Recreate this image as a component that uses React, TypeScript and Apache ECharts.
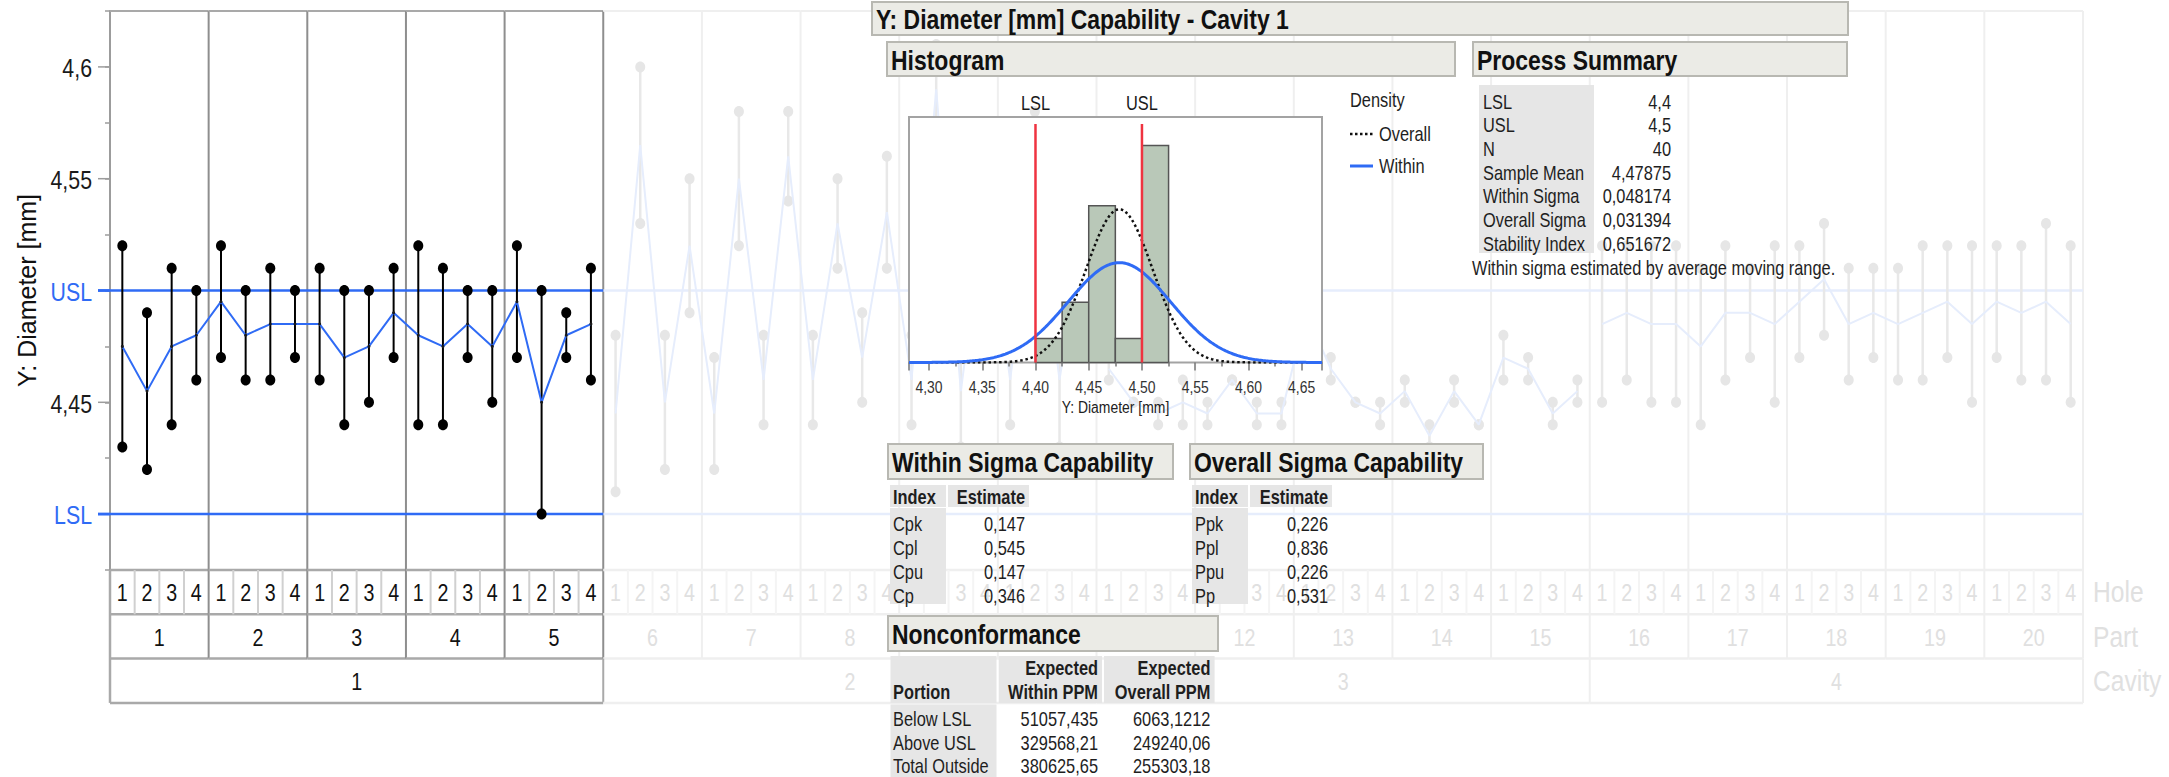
import React, { useEffect, useRef } from 'react';
import * as echarts from 'echarts';

const FONT = "'Liberation Sans', Arial, Helvetica, sans-serif";
const SX = 0.82; // horizontal squeeze of the reference's lettering

// ---------- Variability chart data ----------
const HOLES = ['1', '2', '3', '4'];
const PARTS = ['1', '2', '3', '4', '5', '6', '7', '8', '9', '10', '11', '12', '13', '14', '15', '16', '17', '18', '19', '20'];
const CAVITIES = ['1', '2', '3', '4'];
const ROW_NAMES = ['Hole', 'Part', 'Cavity'];

// per hole (parts x 4 holes), the two measurements: high and low
const CAVITY1_HIGH = [4.52, 4.49, 4.51, 4.50, 4.52, 4.50, 4.51, 4.50, 4.51, 4.50, 4.50, 4.51, 4.52, 4.51, 4.50, 4.50, 4.52, 4.50, 4.49, 4.51];
const CAVITY1_LOW = [4.43, 4.42, 4.44, 4.46, 4.47, 4.46, 4.46, 4.47, 4.46, 4.44, 4.45, 4.47, 4.44, 4.44, 4.47, 4.45, 4.47, 4.40, 4.47, 4.46];
const CAVITY2_HIGH = [4.48, 4.60, 4.48, 4.55, 4.47, 4.58, 4.48, 4.58, 4.48, 4.55, 4.49, 4.56, 4.48, 4.61, 4.48, 4.57, 4.48, 4.58, 4.49, 4.56];
const CAVITY2_LOW = [4.41, 4.53, 4.42, 4.49, 4.42, 4.52, 4.44, 4.54, 4.44, 4.51, 4.45, 4.51, 4.44, 4.57, 4.43, 4.51, 4.44, 4.52, 4.43, 4.50];
const CAVITY3_HIGH = [4.47, 4.45, 4.45, 4.46, 4.45, 4.46, 4.45, 4.45, 4.50, 4.47, 4.45, 4.45, 4.46, 4.44, 4.46, 4.44, 4.48, 4.47, 4.45, 4.46];
const CAVITY3_LOW = [4.46, 4.45, 4.44, 4.44, 4.44, 4.46, 4.44, 4.44, 4.48, 4.46, 4.45, 4.44, 4.45, 4.43, 4.45, 4.44, 4.46, 4.46, 4.44, 4.45];
const CAVITY4_HIGH = [4.52, 4.52, 4.52, 4.52, 4.51, 4.52, 4.51, 4.52, 4.52, 4.53, 4.51, 4.51, 4.51, 4.52, 4.52, 4.52, 4.52, 4.52, 4.53, 4.52];
const CAVITY4_LOW = [4.45, 4.46, 4.45, 4.45, 4.44, 4.46, 4.47, 4.45, 4.47, 4.48, 4.46, 4.47, 4.46, 4.46, 4.47, 4.45, 4.47, 4.46, 4.46, 4.45];

const Y_MIN = 4.375;
const Y_MAX = 4.625;
const Y_STEP = 0.025;
const Y_TICK_VALUES = [4.4, 4.45, 4.5, 4.55, 4.6];
const Y_TICK_LABELS = ['LSL', '4,45', 'USL', '4,55', '4,6'];
const Y_TITLE = 'Y: Diameter [mm]';
const LSL = 4.4;
const USL = 4.5;
const SPEC_VALUES = [LSL, USL];
const SPEC_LABELS = ['LSL', 'USL'];

// ---------- Histogram data ----------
const HIST_BIN_START = [4.4, 4.425, 4.45, 4.475, 4.5];
const HIST_COUNTS = [2, 5, 13, 2, 18];
const HIST_BIN_WIDTH = 0.025;
const HIST_X_MIN = 4.2812;
const HIST_X_MAX = 4.6691;
const HIST_Y_MAX = 20.36;
const HIST_TICKS = [4.3, 4.35, 4.4, 4.45, 4.5, 4.55, 4.6, 4.65];
const HIST_TICK_LABELS = ['4,30', '4,35', '4,40', '4,45', '4,50', '4,55', '4,60', '4,65'];
const SAMPLE_N = 40;
const SAMPLE_MEAN = 4.47875;
const WITHIN_SIGMA = 0.048174;
const OVERALL_SIGMA = 0.031394;

// ---------- Tables ----------
const SUMMARY_LABELS = ['LSL', 'USL', 'N', 'Sample Mean', 'Within Sigma', 'Overall Sigma', 'Stability Index'];
const SUMMARY_VALUES = ['4,4', '4,5', '40', '4,47875', '0,048174', '0,031394', '0,651672'];
const WITHIN_INDEX = ['Cpk', 'Cpl', 'Cpu', 'Cp'];
const WITHIN_EST = ['0,147', '0,545', '0,147', '0,346'];
const OVERALL_INDEX = ['Ppk', 'Ppl', 'Ppu', 'Pp'];
const OVERALL_EST = ['0,226', '0,836', '0,226', '0,531'];
const NONCONF_PORTION = ['Below LSL', 'Above USL', 'Total Outside'];
const NONCONF_WITHIN = ['51057,435', '329568,21', '380625,65'];
const NONCONF_OVERALL = ['6063,1212', '249240,06', '255303,18'];

const ROW_H = 44.3;
const BLUE = '#2f6bf5';
const FADED_BLUE = '#e6edfc';

function ln(x1: number, y1: number, x2: number, y2: number, stroke: string, lineWidth: number, extra: any = {}) {
  return { type: 'line', shape: { x1, y1, x2, y2 }, style: { stroke, lineWidth, ...extra } };
}
function label(x: number, y: number, text: string, o: any = {}) {
  return {
    type: 'text', x, y, scaleX: SX, z: o.z, silent: true,
    style: {
      text, fill: o.fill ?? '#1e1e1e', fontSize: o.size ?? 20, fontFamily: FONT,
      fontWeight: o.bold ? 'bold' : 'normal', align: o.align ?? 'left', verticalAlign: 'middle',
    },
  };
}
function tx(x: number, y: number, text: string, o: any = {}) {
  return label(x, y, text, { z: 30, ...o });
}
function rc(x: number, y: number, w: number, h: number, fill: string, stroke?: string, z = 20) {
  return { type: 'rect', z, silent: true, shape: { x, y, width: w, height: h }, style: { fill, stroke: stroke ?? 'none', lineWidth: stroke ? 2 : 0 } };
}
function header(x: number, y: number, w: number, h: number, text: string) {
  return [rc(x, y, w, h, '#ebebe6', '#b8b8b2'), tx(x + 4, y + h / 2 + 1, text, { bold: true, size: 28, fill: '#111' })];
}

function normalCurve(sigma: number) {
  const pts: number[][] = [];
  const n = 300;
  for (let i = 0; i <= n; i++) {
    const x = HIST_X_MIN + ((HIST_X_MAX - HIST_X_MIN) * i) / n;
    const z = (x - SAMPLE_MEAN) / sigma;
    pts.push([x, (SAMPLE_N * HIST_BIN_WIDTH * Math.exp(-0.5 * z * z)) / (sigma * Math.sqrt(2 * Math.PI))]);
  }
  return pts;
}

function buildOption() {
  const highs = [CAVITY1_HIGH, CAVITY2_HIGH, CAVITY3_HIGH, CAVITY4_HIGH];
  const lows = [CAVITY1_LOW, CAVITY2_LOW, CAVITY3_LOW, CAVITY4_LOW];
  const rangeData: number[][] = [];
  highs.forEach((arr, c) => arr.forEach((hi, i) => rangeData.push([c * 20 + i + 0.5, hi, lows[c][i], c])));
  const meanSeries = highs.map((arr, c) => ({
    type: 'line', xAxisIndex: 0, yAxisIndex: 0, z: 5, silent: true,
    data: arr.map((hi, i) => [c * 20 + i + 0.5, (hi + lows[c][i]) / 2]),
    symbol: c === 0 ? 'circle' : 'none', symbolSize: 3, showSymbol: c === 0,
    itemStyle: { color: '#1a1a1a' },
    lineStyle: { color: c === 0 ? BLUE : FADED_BLUE, width: 2 },
  }));

  const partData = PARTS.map((_, p) => [p * 4 + 2, Y_MIN, p, Math.floor(p / 5)]);
  const cavData = CAVITIES.map((_, c) => [c * 20 + 10, Y_MIN, c]);

  const graphic: any[] = [
    {
      type: 'text', x: 27, y: 290.5, rotation: Math.PI / 2, z: 30, silent: true,
      style: { text: Y_TITLE, fill: '#111', fontSize: 25, fontFamily: FONT, align: 'center', verticalAlign: 'middle' },
    },
    rc(909, 117, 413, 245.5, '#ffffff', '#a3a3a3', 10),
    tx(1115.5, 406.5, Y_TITLE, { size: 17, align: 'center', fill: '#222', z: 16 }),
    ...header(872, 2, 976, 33, 'Y: Diameter [mm] Capability - Cavity 1'),
    ...header(887, 42, 568, 34, 'Histogram'),
    ...header(1473, 42, 374, 34, 'Process Summary'),
    ...header(888, 444, 285, 35, 'Within Sigma Capability'),
    ...header(1190, 444, 293, 35, 'Overall Sigma Capability'),
    ...header(888, 616, 330, 35, 'Nonconformance'),
    // density legend
    tx(1350, 100, 'Density'),
    { type: 'line', z: 30, silent: true, shape: { x1: 1350, y1: 134, x2: 1373, y2: 134 }, style: { stroke: '#111', lineWidth: 2.5, lineDash: [2.5, 2.5] } },
    tx(1379, 134, 'Overall'),
    { type: 'line', z: 30, silent: true, shape: { x1: 1350, y1: 166, x2: 1373, y2: 166 }, style: { stroke: BLUE, lineWidth: 3 } },
    tx(1379, 166, 'Within'),
    // process summary
    rc(1479, 85, 115, 168, '#e6e6e6'),
    ...SUMMARY_LABELS.map((l, i) => tx(1483, 101.5 + i * 23.65, l)),
    ...SUMMARY_VALUES.map((v, i) => tx(1671, 101.5 + i * 23.65, v, { align: 'right' })),
    tx(1472, 267.5, 'Within sigma estimated by average moving range.'),
    // within sigma table
    rc(890, 485, 56, 22, '#e6e6e6'), rc(948, 485, 81, 22, '#e6e6e6'), rc(890, 508, 56, 96, '#e6e6e6'),
    tx(893, 496.5, 'Index', { bold: true }), tx(1025, 496.5, 'Estimate', { bold: true, align: 'right' }),
    ...WITHIN_INDEX.map((l, i) => tx(893, 523.5 + i * 24.05, l)),
    ...WITHIN_EST.map((v, i) => tx(1025, 523.5 + i * 24.05, v, { align: 'right' })),
    // overall sigma table
    rc(1192, 485, 56, 22, '#e6e6e6'), rc(1250, 485, 82, 22, '#e6e6e6'), rc(1192, 508, 56, 96, '#e6e6e6'),
    tx(1195, 496.5, 'Index', { bold: true }), tx(1328, 496.5, 'Estimate', { bold: true, align: 'right' }),
    ...OVERALL_INDEX.map((l, i) => tx(1195, 523.5 + i * 24.05, l)),
    ...OVERALL_EST.map((v, i) => tx(1328, 523.5 + i * 24.05, v, { align: 'right' })),
    // nonconformance table
    rc(890.5, 656, 106, 47, '#e6e6e6'), rc(998.7, 656, 103.3, 47, '#e6e6e6'), rc(1104, 656, 110.6, 47, '#e6e6e6'),
    rc(890.5, 704.5, 106, 73, '#e6e6e6'),
    tx(893, 691.7, 'Portion', { bold: true }),
    tx(1098, 668.3, 'Expected', { bold: true, align: 'right' }), tx(1098, 691.7, 'Within PPM', { bold: true, align: 'right' }),
    tx(1210.4, 668.3, 'Expected', { bold: true, align: 'right' }), tx(1210.4, 691.7, 'Overall PPM', { bold: true, align: 'right' }),
    ...NONCONF_PORTION.map((l, i) => tx(893, 719.3 + i * 23.35, l)),
    ...NONCONF_WITHIN.map((v, i) => tx(1098, 719.3 + i * 23.35, v, { align: 'right' })),
    ...NONCONF_OVERALL.map((v, i) => tx(1210.4, 719.3 + i * 23.35, v, { align: 'right' })),
    // row names
    ...ROW_NAMES.map((n, i) => tx(2093, 592 + i * ROW_H, n, { size: 30, fill: '#e0e0e0', z: 1 })),
  ];

  return {
    animation: false,
    backgroundColor: '#ffffff',
    textStyle: { fontFamily: FONT },
    grid: [
      { left: 110, top: 11, width: 1973, height: 559, outerBoundsMode: 'none', containLabel: false },
      { left: 909, top: 117, width: 413, height: 245.5, outerBoundsMode: 'none', containLabel: false },
    ],
    xAxis: [
      { gridIndex: 0, type: 'value', min: 0, max: 80, show: false },
      {
        gridIndex: 1, type: 'value', min: HIST_X_MIN, max: HIST_X_MAX, splitNumber: 8, z: 12,
        axisLine: { show: false }, splitLine: { show: false }, axisLabel: { show: false },
        axisTick: { show: true, length: 8, lineStyle: { color: '#777', width: 1.5 } },
        minorTick: { show: true, splitNumber: 2, length: 4, lineStyle: { color: '#777', width: 1.5 } },
      },
    ],
    yAxis: [
      {
        gridIndex: 0, type: 'value', min: Y_MIN, max: Y_MAX, interval: Y_STEP,
        axisLine: { show: true, lineStyle: { color: '#9c9c9c', width: 2 } },
        axisTick: { show: true, length: 5, lineStyle: { color: '#9c9c9c', width: 1.5 } },
        splitLine: { show: false },
        axisLabel: { show: false },
      },
      { gridIndex: 1, type: 'value', min: 0, max: HIST_Y_MAX, show: false },
    ],
    graphic,
    series: [
      // part frame, separators, hole & part rows
      {
        type: 'custom', xAxisIndex: 0, yAxisIndex: 0, z: 1, silent: true, data: partData,
        renderItem: (params: any, api: any) => {
          const p = api.value(2);
          const active = api.value(3) === 0;
          const x0 = api.coord([p * 4, Y_MAX])[0];
          const x1 = api.coord([p * 4 + 4, Y_MAX])[0];
          const yTop = api.coord([0, Y_MAX])[1];
          const yBot = api.coord([0, Y_MIN])[1];
          const sep = active ? '#8e8e8e' : '#efefef';
          const border = active ? '#a9a9a9' : '#efefef';
          const inner = active ? '#d0d0d0' : '#f4f4f4';
          const col = active ? '#111111' : '#e0e0e0';
          const ch: any[] = [
            ln(x0, yTop, x1, yTop, border, 2),
            ln(x0, yBot, x1, yBot, border, 2.5),
            ln(x0, yBot + ROW_H, x1, yBot + ROW_H, border, 2.5),
            ln(x0, yBot + 2 * ROW_H, x1, yBot + 2 * ROW_H, border, 2.5),
            ln(x1, yTop, x1, yBot + 2 * ROW_H, sep, 2),
          ];
          HOLES.forEach((h, i) => {
            const hx0 = api.coord([p * 4 + i, Y_MIN])[0];
            const hx1 = api.coord([p * 4 + i + 1, Y_MIN])[0];
            if (i > 0) ch.push(ln(hx0, yBot, hx0, yBot + ROW_H, inner, 2));
            ch.push(label((hx0 + hx1) / 2, yBot + ROW_H / 2 + 1, h, { fill: col, size: 24, align: 'center' }));
          });
          ch.push(label((x0 + x1) / 2, yBot + 1.5 * ROW_H + 1, PARTS[p], { fill: col, size: 24, align: 'center' }));
          return { type: 'group', children: ch };
        },
      },
      // cavity row
      {
        type: 'custom', xAxisIndex: 0, yAxisIndex: 0, z: 1, silent: true, data: cavData,
        renderItem: (params: any, api: any) => {
          const c = api.value(2);
          const active = c === 0;
          const x0 = api.coord([c * 20, Y_MIN])[0];
          const x1 = api.coord([c * 20 + 20, Y_MIN])[0];
          const yBot = api.coord([0, Y_MIN])[1];
          const border = active ? '#a9a9a9' : '#efefef';
          const ch: any[] = [
            ln(x0, yBot + 3 * ROW_H, x1, yBot + 3 * ROW_H, border, 2.5),
            ln(x1, yBot + 2 * ROW_H, x1, yBot + 3 * ROW_H, border, 2),
            label((x0 + x1) / 2, yBot + 2.5 * ROW_H + 1, CAVITIES[c], { fill: active ? '#111' : '#e0e0e0', size: 24, align: 'center' }),
          ];
          if (active) ch.push(ln(x0, yBot, x0, yBot + 3 * ROW_H, '#a9a9a9', 2.5));
          return { type: 'group', children: ch };
        },
      },
      // spec limit lines
      {
        type: 'custom', xAxisIndex: 0, yAxisIndex: 0, z: 2, silent: true, data: SPEC_VALUES.map((v) => [0, v]),
        renderItem: (params: any, api: any) => {
          const v = api.value(1);
          const a = api.coord([0, v]);
          const b = api.coord([20, v]);
          const e = api.coord([80, v]);
          return {
            type: 'group', children: [
              ln(b[0], b[1], e[0], e[1], FADED_BLUE, 2.5),
              ln(a[0] - 12, a[1], b[0], b[1], BLUE, 2.5),
            ],
          };
        },
      },
      // major ticks and their labels
      {
        type: 'custom', xAxisIndex: 0, yAxisIndex: 0, z: 2, silent: true, data: Y_TICK_VALUES.map((v, i) => [0, v, i]),
        renderItem: (params: any, api: any) => {
          const v = api.value(1);
          const a = api.coord([0, v]);
          const spec = SPEC_VALUES.some((s) => Math.abs(s - v) < 1e-6);
          return {
            type: 'group', children: [
              ln(a[0] - 12, a[1], a[0], a[1], spec ? BLUE : '#9c9c9c', spec ? 2.5 : 1.5),
              label(a[0] - 18, a[1] + 1, Y_TICK_LABELS[api.value(2)], { fill: spec ? BLUE : '#1a1a1a', size: 26, align: 'right' }),
            ],
          };
        },
      },
      // range bars with end points
      {
        type: 'custom', xAxisIndex: 0, yAxisIndex: 0, z: 3, silent: true, data: rangeData,
        encode: { x: 0, y: [1, 2] },
        renderItem: (params: any, api: any) => {
          const x = api.value(0);
          const pHi = api.coord([x, api.value(1)]);
          const pLo = api.coord([x, api.value(2)]);
          const active = api.value(3) === 0;
          const dot = active ? '#000000' : '#e6e6e6';
          return {
            type: 'group', children: [
              ln(pHi[0], pHi[1], pLo[0], pLo[1], active ? '#000000' : '#e8e8e8', active ? 2 : 2.5),
              { type: 'ellipse', shape: { cx: pHi[0], cy: pHi[1], rx: 5, ry: 5.5 }, style: { fill: dot } },
              { type: 'ellipse', shape: { cx: pLo[0], cy: pLo[1], rx: 5, ry: 5.5 }, style: { fill: dot } },
            ],
          };
        },
      },
      ...meanSeries,
      // histogram bars
      {
        type: 'custom', xAxisIndex: 1, yAxisIndex: 1, z: 12, silent: true,
        data: HIST_BIN_START.map((s, i) => [s, HIST_COUNTS[i]]),
        renderItem: (params: any, api: any) => {
          const s = api.value(0);
          const p0 = api.coord([s, 0]);
          const p1 = api.coord([s + HIST_BIN_WIDTH, api.value(1)]);
          return { type: 'rect', shape: { x: p0[0], y: p1[1], width: p1[0] - p0[0], height: p0[1] - p1[1] }, style: { fill: '#b9c8b8', stroke: '#555555', lineWidth: 1.5 } };
        },
      },
      {
        type: 'line', xAxisIndex: 1, yAxisIndex: 1, z: 13, silent: true, data: normalCurve(OVERALL_SIGMA),
        symbol: 'none', showSymbol: false, lineStyle: { color: '#111111', width: 2.5, type: [2.5, 2.8] },
      },
      {
        type: 'line', xAxisIndex: 1, yAxisIndex: 1, z: 14, silent: true, data: normalCurve(WITHIN_SIGMA),
        symbol: 'none', showSymbol: false, lineStyle: { color: BLUE, width: 3 },
      },
      // histogram tick labels
      {
        type: 'custom', xAxisIndex: 1, yAxisIndex: 1, z: 15, silent: true,
        data: HIST_TICKS.map((v, i) => [v, 0, i]),
        renderItem: (params: any, api: any) => {
          const p = api.coord([api.value(0), 0]);
          return label(p[0], p[1] + 24, HIST_TICK_LABELS[api.value(2)], { fill: '#333', size: 17, align: 'center' });
        },
      },
      // spec lines on histogram
      {
        type: 'custom', xAxisIndex: 1, yAxisIndex: 1, z: 15, silent: true,
        data: SPEC_VALUES.map((v, i) => [v, 0, i]),
        renderItem: (params: any, api: any) => {
          const v = api.value(0);
          const pb = api.coord([v, 0]);
          const pt = api.coord([v, HIST_Y_MAX]);
          return {
            type: 'group', children: [
              ln(pb[0], pb[1], pb[0], pt[1] + 7, '#ef3340', 2.5),
              label(pb[0], pt[1] - 14, SPEC_LABELS[api.value(2)], { fill: '#1a1a1a', size: 20, align: 'center' }),
            ],
          };
        },
      },
    ],
  };
}

export default function App() {
  const ref = useRef<HTMLDivElement>(null);
  useEffect(() => {
    if (!ref.current) return;
    const chart = echarts.init(ref.current, null, { renderer: 'svg' });
    chart.setOption(buildOption() as any);
    return () => chart.dispose();
  }, []);
  return <div ref={ref} style={{ position: 'absolute', left: 0, top: 0, width: 2169, height: 777, background: '#fff' }} />;
}
